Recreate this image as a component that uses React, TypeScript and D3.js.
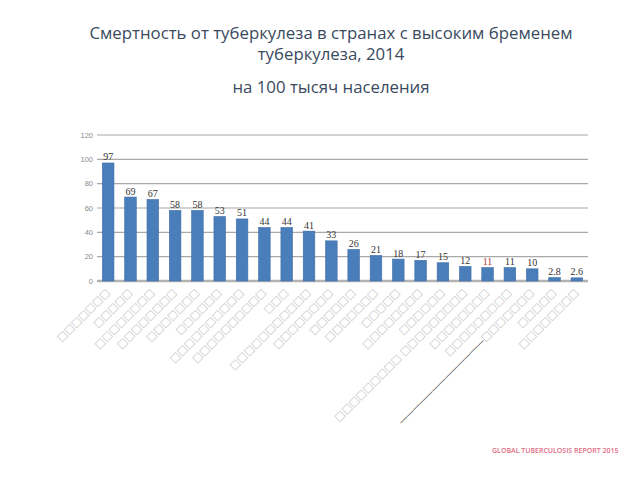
import React from 'react'
import * as d3 from 'd3'

// country labels came out as missing-glyph boxes in the source; box counts kept
const labelBoxes = [7, 5, 8, 8, 7, 6, 10, 10, 3, 11, 8, 6, 7, 5, 8, 6, 19, 8, 9, 7, 5, 8]
const values = [97, 69, 67, 58, 58, 53, 51, 44, 44, 41, 33, 26, 21, 18, 17, 15, 12, 11, 11, 10, 2.8, 2.6]
const valueText = ['97', '69', '67', '58', '58', '53', '51', '44', '44', '41', '33', '26', '21', '18', '17', '15', '12', '11', '11', '10', '2.8', '2.6']
const yTicks = [0, 20, 40, 60, 80, 100, 120]
const titleLines = ['Смертность от туберкулеза в странах с высоким бременем', 'туберкулеза, 2014']
const subtitle = 'на 100 тысяч населения'
const source = 'GLOBAL TUBERCULOSIS REPORT 2015'

const W = 640
const H = 480
const BOX = '\u25A1'
const DASHED_LABEL = 19 // this label ends in a long rule in the source

const boxString = (n: number) => {
  // the 17th label has two words
  if (n === 19) return BOX.repeat(9) + ' ' + BOX.repeat(9)
  return BOX.repeat(n)
}

const App: React.FC = () => {
  const x = d3.scaleBand<number>()
    .domain(values.map((_, i) => i))
    .range([97, 588])
    .paddingInner(0.48)
    .paddingOuter(0.24)

  const y = d3.scaleLinear()
    .domain([0, 120])
    .range([281, 135])

  const labelY = y(0) + 12

  return (
    <svg width={W} height={H} style={{ position: 'absolute', left: 0, top: 0 }}>
      <rect width={W} height={H} fill="#fff" />

      <g fontFamily="'Open Sans', sans-serif" fill="#3a4a60" textAnchor="middle">
        <text x={331} y={39} fontSize={16.8}>{titleLines[0]}</text>
        <text x={331} y={60} fontSize={16.8}>{titleLines[1]}</text>
        <text x={331} y={93} fontSize={16.8}>{subtitle}</text>
      </g>

      {/* grid */}
      {yTicks.map(t => (
        <g key={t}>
          <line x1={97} x2={588} y1={y(t)} y2={y(t)}
            stroke={t === 0 ? '#b3b3b3' : '#a8a8a8'} strokeWidth={t === 0 ? 2.5 : 1.2} />
          <text x={93} y={y(t) + 2.5} fontSize={7.5} fill="#8a8a8a" textAnchor="end"
            fontFamily="'Liberation Sans', sans-serif">{t}</text>
        </g>
      ))}

      {/* bars */}
      {values.map((v, i) => (
        <rect key={i} x={x(i)} y={y(v)} width={x.bandwidth()} height={y(0) - y(v)}
          fill="#4a7ebb" stroke="#3f6ea8" strokeWidth={0.6} />
      ))}

      {/* value labels */}
      {values.map((v, i) => (
        <text key={i} x={(x(i) as number) + x.bandwidth() / 2} y={y(v) - 2.5}
          fontSize={10} textAnchor="middle" fontFamily="'Liberation Serif', serif"
          fill={i === 17 ? '#b23a3a' : '#333'}>{valueText[i]}</text>
      ))}

      {/* category labels */}
      {labelBoxes.map((n, i) => {
        const cx = (x(i) as number) + x.bandwidth() / 2 + 2
        const s = boxString(n)
        return (
          <text key={i} transform={`translate(${cx},${labelY}) rotate(-45)`}
            textAnchor="end" fontSize={10.5} fill="#c2c2c2"
            fontFamily="'DejaVu Sans', sans-serif">
            {i === DASHED_LABEL && <tspan fill="#505050" fontSize={9}>{'\u2015'.repeat(13)}</tspan>}
            <tspan>{s}</tspan>
          </text>
        )
      })}

      <text x={492} y={453} fontSize={7} fill="#e06c85" fontWeight={600}
        fontFamily="'Open Sans', sans-serif">{source}</text>
    </svg>
  )
}

export default App
